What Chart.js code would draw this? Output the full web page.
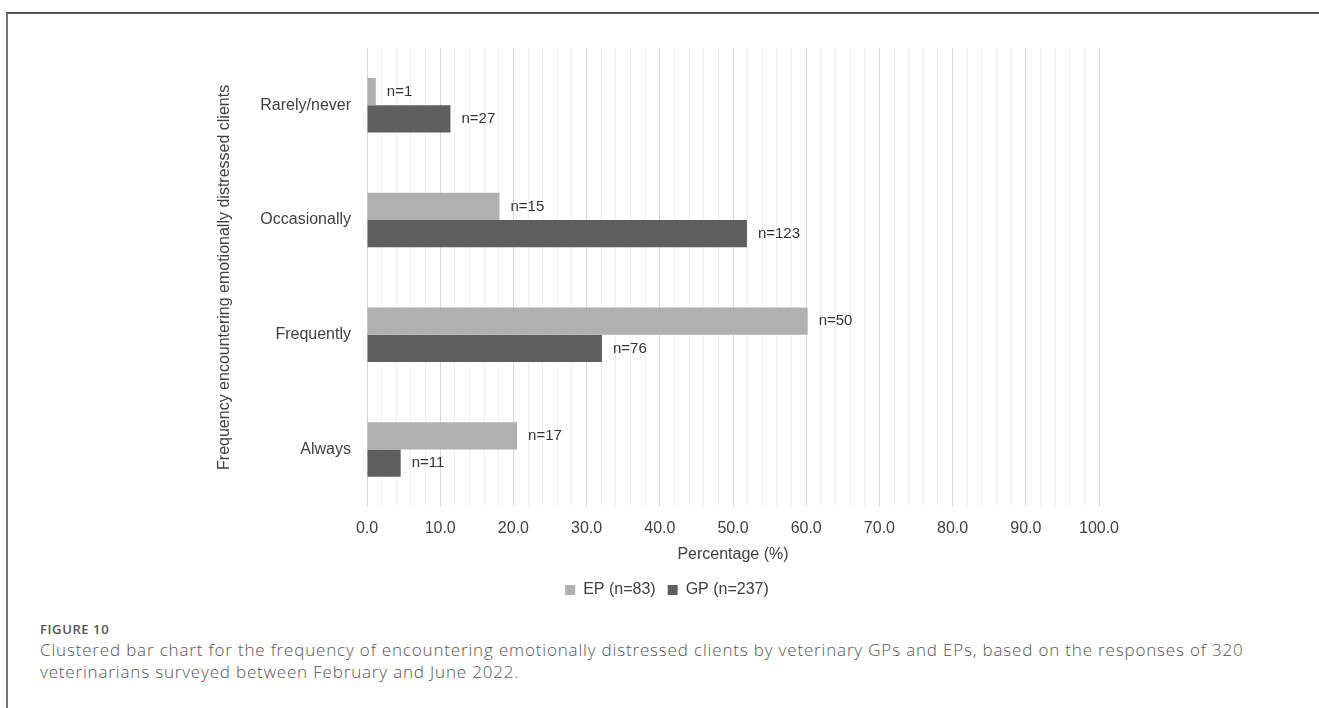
<!DOCTYPE html>
<html>
<head>
<meta charset="utf-8">
<script src="https://cdn.jsdelivr.net/npm/chart.js@4.4.1/dist/chart.umd.min.js"></script>
<style>
  body { margin: 0; background: #fff; width: 1319px; height: 708px; overflow: hidden; position: relative; }
  #frame { position: absolute; left: 6px; top: 12px; width: 1313px; height: 700px;
           border-top: 2px solid #555; border-left: 2px solid #777; }
  #chart { position: absolute; left: 0; top: 0; }
  .figno { position: absolute; left: 40px; top: 620px; font: 600 13px "Open Sans", sans-serif; letter-spacing: 0.6px; color: #555; }
  .caption { position: absolute; left: 40px; top: 639px; width: 1270px; white-space: nowrap;
             font: 300 17px/22px "Open Sans", sans-serif; letter-spacing: 0.83px; color: #555; }
</style>
</head>
<body>
<div id="frame"></div>
<canvas id="chart" width="1319" height="612"></canvas>
<div class="figno">FIGURE 10</div>
<div class="caption">Clustered bar chart for the frequency of encountering emotionally distressed clients by veterinary GPs and EPs, based on the responses of 320<br>veterinarians surveyed between February and June 2022.</div>
<script>
// Kategorien und Werte (Prozent)
const categories = ['Rarely/never', 'Occasionally', 'Frequently', 'Always'];
const epValues = [1.2, 18.1, 60.2, 20.5];
const gpValues = [11.4, 51.9, 32.1, 4.6];
const epCounts = ['n=1', 'n=15', 'n=50', 'n=17'];
const gpCounts = ['n=27', 'n=123', 'n=76', 'n=11'];
const seriesNames = ['EP (n=83)', 'GP (n=237)'];

const FONT = "'Liberation Sans', Arial, sans-serif";
const TEXT = '#404040';

// Beschriftungen "n=.." rechts neben den Balken
const countLabels = {
  id: 'countLabels',
  afterDatasetsDraw(chart) {
    const ctx = chart.ctx;
    const counts = [epCounts, gpCounts];
    ctx.save();
    ctx.font = '15px ' + FONT;
    ctx.fillStyle = '#333';
    ctx.textAlign = 'left';
    ctx.textBaseline = 'middle';
    chart.data.datasets.forEach((ds, i) => {
      chart.getDatasetMeta(i).data.forEach((bar, j) => {
        ctx.fillText(counts[i][j], bar.x + 11, bar.y);
      });
    });
    ctx.restore();
  }
};

// Legende etwas nach rechts schieben (wie im Original)
const legendShift = {
  id: 'legendShift',
  afterLayout(chart) {
    if (chart.legend) {
      chart.legend.left += 10;
      chart.legend.right += 10;
    }
  }
};

new Chart(document.getElementById('chart'), {
  type: 'bar',
  data: {
    labels: categories,
    datasets: [
      { label: seriesNames[0], data: epValues, backgroundColor: '#b0b0b0' },
      { label: seriesNames[1], data: gpValues, backgroundColor: '#5f5f5f' }
    ]
  },
  options: {
    indexAxis: 'y',
    responsive: false,
    animation: false,
    datasets: { bar: { barPercentage: 1, categoryPercentage: 0.475 } },
    layout: { padding: { left: 215, right: 220, top: 48, bottom: 4 } },
    scales: {
      x: {
        min: 0, max: 100,
        ticks: {
          stepSize: 2,
          autoSkip: false,
          maxRotation: 0,
          padding: 14,
          color: TEXT,
          font: { family: FONT, size: 16, lineHeight: 1 },
          callback: v => (v % 10 === 0 ? v.toFixed(1) : '')
        },
        grid: {
          drawTicks: false,
          color: ctx => (ctx.tick && ctx.tick.value % 10 === 0 ? '#d9d9d9' : '#efefef')
        },
        border: { display: false },
        title: {
          display: true, text: 'Percentage (%)', color: TEXT,
          font: { family: FONT, size: 16 }, padding: { top: -6, bottom: 6 }
        }
      },
      y: {
        grid: { display: false, drawTicks: false },
        border: { color: '#d9d9d9' },
        ticks: { padding: 16, color: TEXT, font: { family: FONT, size: 16 } },
        title: {
          display: true, text: 'Frequency encountering emotionally distressed clients',
          color: TEXT, font: { family: FONT, size: 16 }, padding: { top: 0, bottom: 0 }
        },
        afterFit: scale => { scale.width = 152; }
      }
    },
    plugins: {
      legend: {
        position: 'bottom',
        labels: { boxWidth: 10, boxHeight: 10, color: TEXT, font: { family: FONT, size: 16 }, padding: 12 }
      },
      tooltip: { enabled: false }
    }
  },
  plugins: [countLabels, legendShift]
});
</script>
</body>
</html>
